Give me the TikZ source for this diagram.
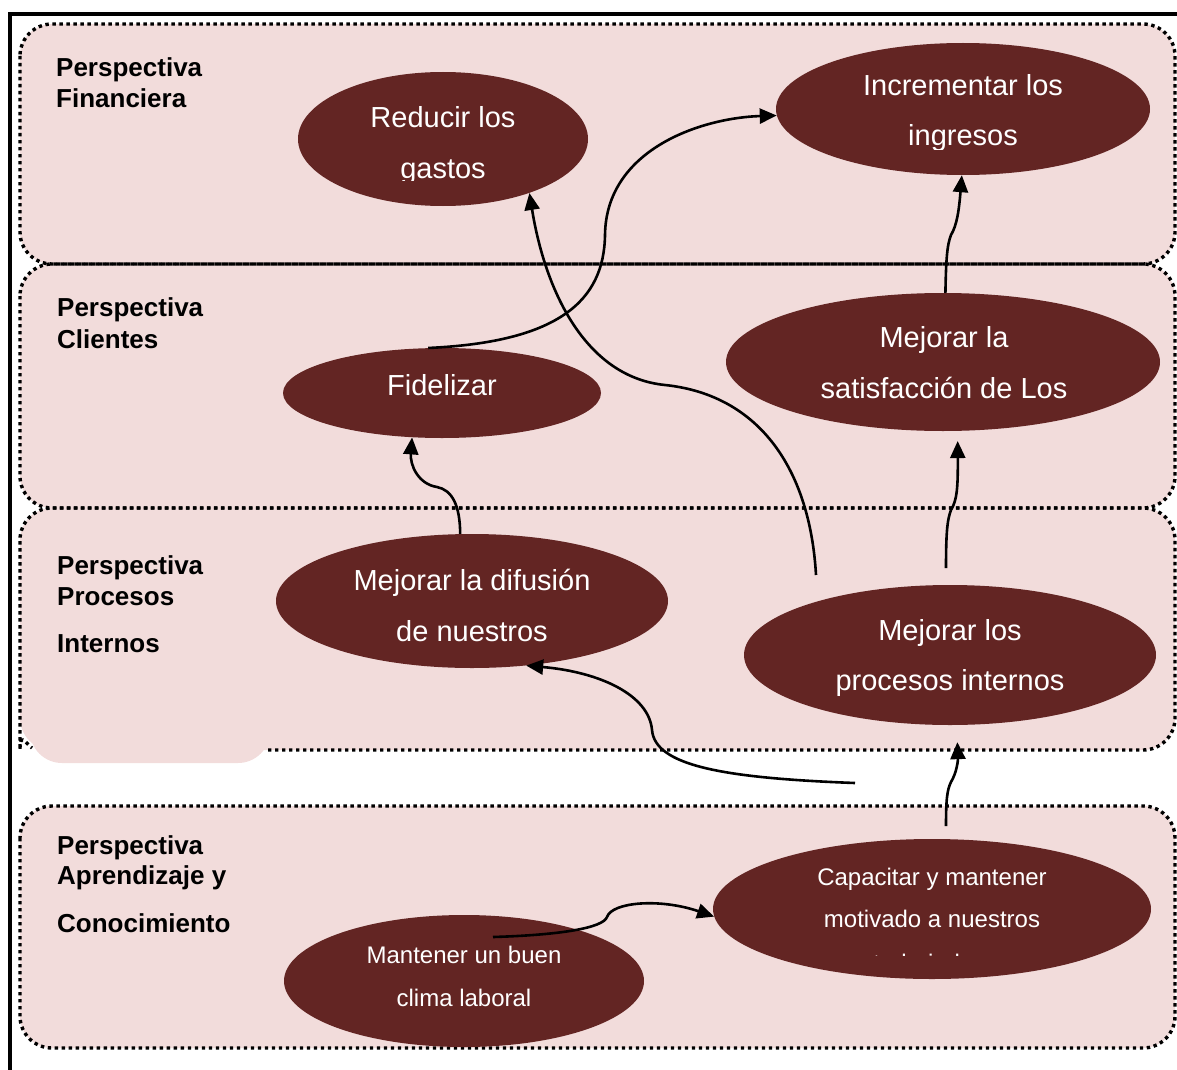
\documentclass[tikz,border=0pt]{standalone}
\usepackage{fontspec}
\setmainfont{Liberation Sans}
\usetikzlibrary{arrows.meta,shapes.geometric}

\definecolor{bandfill}{HTML}{F2DCDB}
\definecolor{goalfill}{HTML}{632523}

\tikzset{
  bandbox/.style={fill=bandfill, draw=none, rounded corners=32pt},
  banddot/.style={draw=black, line width=3.4pt, dash pattern=on 3.4pt off 3.6pt, rounded corners=32pt},
  goal/.style={ellipse, fill=goalfill, draw=none, inner sep=0pt},
  bigtxt/.style={text=white, inner sep=0pt, anchor=base, font=\fontsize{29}{35}\selectfont},
  smalltxt/.style={text=white, inner sep=0pt, anchor=base, font=\fontsize{24}{28}\selectfont},
  persp/.style={inner sep=0pt, anchor=base west, font=\fontsize{26}{30}\selectfont\bfseries},
  flow/.style={draw=black, line width=2.6pt, -{Triangle[length=17pt,width=15pt]}},
}

\begin{document}
\begin{tikzpicture}[x=1pt,y=-1pt]
\useasboundingbox (0,0) rectangle (1177,1070);

% ---- perspective bands ----
\path[bandbox] (20,24) rectangle (1175,264);
\path[bandbox] (20,264) rectangle (1175,508);
\path[bandbox] (20,508) rectangle (1175,750);
\path[bandbox] (30,700) rectangle (270,763);
\path[bandbox] (20,806) rectangle (1175,1048);

\draw[banddot] (20,24) rectangle (1175,264);
\draw[banddot] (20,264) rectangle (1175,508);
\draw[banddot] (268,750) -- (1175,750) -- (1175,508) -- (20,508) -- (20,718)
   .. controls (20,733) and (24,741) .. (32,748);
\draw[banddot] (20,806) rectangle (1175,1048);

% ---- outer frame ----
\draw[line width=4pt] (10,1070) -- (10,14) -- (1177,14);

% ---- perspective titles ----
\node[persp] (pf1) at (56,77) {Perspectiva};
\node[persp] (pf2) at (56,108) {Financiera};
\node[persp] (pc1) at (57,316) {Perspectiva};
\node[persp] (pc2) at (57,348) {Clientes};
\node[persp] (pp1) at (57,574) {Perspectiva};
\node[persp] (pp2) at (57,605) {Procesos};
\node[persp] (pp3) at (57,652) {Internos};
\node[persp] (pa1) at (57,854) {Perspectiva};
\node[persp] (pa2) at (57,884) {Aprendizaje y};
\node[persp] (pa3) at (57,932) {Conocimiento};

% ---- objectives ----
\node[goal, minimum width=290pt, minimum height=134pt] (gastos)   at (443,139) {};
\node[goal, minimum width=374pt, minimum height=132pt] (ingresos) at (963,109) {};
\node[goal, minimum width=318pt, minimum height=90pt]  (fid)      at (442,393) {};
\node[goal, minimum width=434pt, minimum height=138pt] (sat)      at (943,362) {};
\node[goal, minimum width=392pt, minimum height=134pt] (dif)      at (472,601) {};
\node[goal, minimum width=412pt, minimum height=140pt] (proc)     at (950,655) {};
\node[goal, minimum width=438pt, minimum height=140pt] (cap)      at (932,909) {};
\node[goal, minimum width=360pt, minimum height=132pt] (clima)    at (464,981) {};

% objective texts, cut off at the bottom of their text frames
\begin{scope}
  \clip (300,90) rectangle (590,180);
  \node[bigtxt] (t-gastos1) at (443,128) {Reducir los};
  \node[bigtxt] (t-gastos2) at (443,178) {gastos};
\end{scope}
\begin{scope}
  \clip (780,60) rectangle (1150,149);
  \node[bigtxt] (t-ing1) at (963,96) {Incrementar los};
  \node[bigtxt] (t-ing2) at (963,146) {ingresos};
\end{scope}
\node[bigtxt] (t-fid) at (442,395) {Fidelizar};
\node[bigtxt] (t-sat1) at (944,347) {Mejorar la};
\node[bigtxt] (t-sat2) at (944,398) {satisfacción de Los};
\node[bigtxt] (t-dif1) at (472,590) {Mejorar la difusión};
\node[bigtxt] (t-dif2) at (472,641) {de nuestros};
\node[bigtxt] (t-proc1) at (950,640) {Mejorar los};
\node[bigtxt] (t-proc2) at (950,690) {procesos internos};
\begin{scope}
  \clip (715,850) rectangle (1150,955);
  \node[smalltxt] (t-cap1) at (932,885) {Capacitar y mantener};
  \node[smalltxt] (t-cap2) at (932,927) {motivado a nuestros};
  \node[smalltxt] (t-cap3) at (940,971) {trabajadores};
\end{scope}
\node[smalltxt] (t-clima1) at (464,963) {Mantener un buen};
\node[smalltxt] (t-clima2) at (464,1006) {clima laboral};

% ---- free ends of the connectors ----
\coordinate (procout)  at (816,575);
\coordinate (procup)   at (946,568);
\coordinate (procside) at (855,783);
\coordinate (capup)    at (946,826);
\coordinate (climaout) at (493,937);

% ---- cause and effect links ----
\draw[flow] (fid.107) .. controls (560,342) and (604,300) .. (605,235)
   .. controls (606,150) and (700,118) .. (ingresos.182);
\draw[flow] (procout) .. controls (810,470) and (760,395) .. (665,385)
   .. controls (585,377) and (545,290) .. (gastos.-32);
\draw[flow] (dif.100) .. controls (460,505) and (452,490) .. (437,487)
   .. controls (418,484) and (410,465) .. (fid.-124);
\draw[flow] (sat.88) .. controls (946,260) and (947,245) .. (951,235)
   .. controls (957,225) and (959,210) .. (ingresos.-91);
\draw[flow] (procup) .. controls (946,535) and (947,520) .. (951,510)
   .. controls (957,500) and (958,488) .. ([yshift=-10pt]sat.-78);
\draw[flow] (procside) .. controls (720,778) and (655,765) .. (652,730)
   .. controls (649,695) and (600,672) .. (dif.-50);
\draw[flow] (capup) .. controls (946,800) and (947,790) .. (951,782)
   .. controls (957,772) and (958,760) .. ([yshift=-17pt]proc.-84);
\draw[flow] (climaout) .. controls (560,935) and (603,928) .. (607,917)
   .. controls (612,902) and (660,898) .. (cap.182);
\end{tikzpicture}
\end{document}
